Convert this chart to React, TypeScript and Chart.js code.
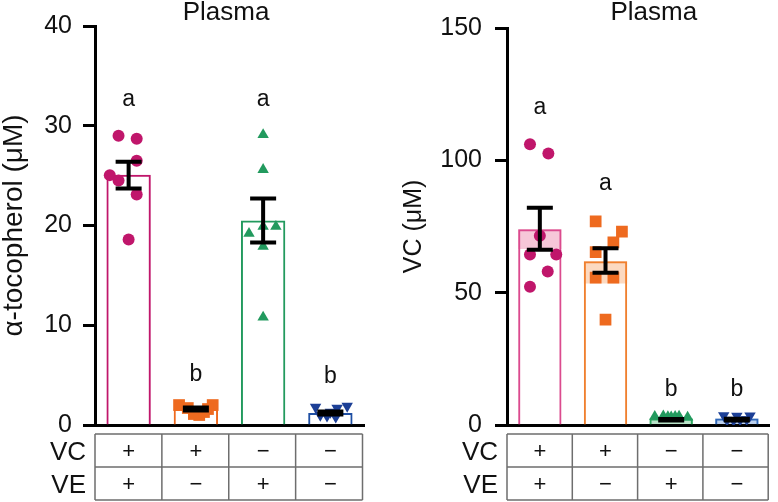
import React, { useEffect, useRef } from "react";
import { Chart, registerables } from "chart.js";

Chart.register(...registerables);

// ---------- shared ----------
const groups = ["VC+ VE+", "VC+ VE−", "VC− VE+", "VC− VE−"];
const vcRow = ["+", "+", "−", "−"];
const veRow = ["+", "−", "+", "−"];

// ---------- left panel: alpha-tocopherol ----------
const tocoTitle = "α-tocopherol (μM)";
const tocoTicks = [0, 10, 20, 30, 40];
const tocoMeans = [25.1, 1.6, 20.5, 1.2];
const tocoErrLow = [23.7, 1.45, 18.3, 1.05];
const tocoErrHigh = [26.4, 1.75, 22.7, 1.35];
const tocoLetters = ["a", "b", "a", "b"];
const tocoLetterY = [32.0, 4.4, 32.0, 4.2];
const tocoPts1 = [29.0, 28.7, 26.5, 25.05, 24.5, 23.1, 18.6];
const tocoJit1 = [-0.15, 0.12, 0.12, -0.28, -0.15, 0.12, 0];
const tocoPts2 = [2.0, 2.0, 1.7, 1.1, 1.0, 1.3, 1.6];
const tocoJit2 = [-0.25, 0.25, -0.12, -0.03, 0.05, 0.12, 0.18];
const tocoPts3 = [29.1, 25.6, 19.9, 19.2, 19.9, 17.9, 10.8];
const tocoJit3 = [0, 0, 0, -0.21, 0.19, 0, 0];
const tocoPts4 = [1.8, 1.9, 1.7, 0.9, 0.8, 1.0, 1.3];
const tocoJit4 = [-0.22, 0.25, 0.1, -0.05, 0.08, -0.15, 0];

// ---------- right panel: VC ----------
const vcTitle = "VC (μM)";
const vcTicks = [0, 50, 100, 150];
const vcMeans = [74.0, 61.9, 2.5, 2.5];
const vcBandLow = [66.5, 53.5, 0.4, 0.4];
const vcBandHigh = [74.0, 61.9, 2.5, 2.5];
const vcErrLow = [66.2, 57.5, 1.7, 1.7];
const vcErrHigh = [82.1, 66.8, 2.3, 2.4];
const vcLetters = ["a", "a", "b", "b"];
const vcLetterY = [117.5, 88.9, 10.9, 10.9];
const vcPts1 = [106.1, 102.6, 71.5, 64.4, 64.4, 58.0, 52.2];
const vcJit1 = [-0.15, 0.13, 0, -0.15, 0.25, 0.12, -0.15];
const vcPts2 = [76.9, 73.1, 69.0, 65.3, 55.7, 55.7, 39.8];
const vcJit2 = [-0.15, 0.25, 0.12, -0.15, -0.15, 0.12, 0];
const vcPts3 = [3.2, 3.4, 3.0, 3.3, 2.9, 3.1, 3.2];
const vcJit3 = [-0.25, -0.12, 0, 0.12, 0.25, -0.05, 0.06];
const vcPts4 = [3.6, 3.4, 3.5, 1.9, 1.8, 2.0, 2.1];
const vcJit4 = [-0.2, 0.0, 0.2, -0.15, -0.05, 0.05, 0.15];

const FONT = "'Liberation Sans', Arial, Helvetica, sans-serif";

const mk = (vals: number[], jit: number[], idx: number) =>
  vals.map((v, k) => ({ x: idx + jit[k], y: v }));

type PanelCfg = {
  width: number;
  axisWidth: number;
  padRight: number;
  tickPad: number;
  titlePad: number;
  titleSize: number;
  plasmaOffset: number;
  yTitle: string;
  ticks: number[];
  means: number[];
  errLow: number[];
  errHigh: number[];
  letters: string[];
  letterY: number[];
  bandLow?: number[];
  bandHigh?: number[];
  barColors: string[];
  bandColors?: string[];
  ptColors: string[];
  points: { x: number; y: number }[][];
};

const styles = ["circle", "rect", "triangle", "triangle"];
const rotations = [0, 0, 0, 180];
const radii = [6, 8.3, 6.6, 6.6];

function makeConfig(cfg: PanelCfg) {
  const datasets: any[] = [];
  if (cfg.bandLow && cfg.bandHigh) {
    datasets.push({
      type: "bar",
      data: cfg.bandLow.map((lo, i) => [lo, cfg.bandHigh![i]]),
      backgroundColor: cfg.bandColors,
      borderWidth: 0,
      barPercentage: 0.66,
      categoryPercentage: 1,
      grouped: false,
      order: 4,
      xAxisID: "x",
    });
  }
  datasets.push({
    type: "bar",
    data: cfg.means,
    backgroundColor: "rgba(255,255,255,0)",
    borderColor: cfg.barColors,
    borderWidth: 2,
    barPercentage: 0.66,
    categoryPercentage: 1,
    grouped: false,
    order: 3,
    xAxisID: "x",
  });
  cfg.points.forEach((pts, i) => {
    datasets.push({
      type: "scatter",
      data: pts,
      xAxisID: "xs",
      pointStyle: styles[i],
      rotation: rotations[i],
      pointRadius: radii[i],
      pointBackgroundColor: cfg.ptColors[i],
      pointBorderWidth: 0,
      showLine: false,
      order: 2,
    });
  });

  const overlay = {
    id: "overlay",
    afterDatasetsDraw(chart: any) {
      const { ctx } = chart;
      const xs = chart.scales.x;
      const ys = chart.scales.y;
      ctx.save();
      ctx.strokeStyle = "#000";
      ctx.lineWidth = 4;
      cfg.errLow.forEach((lo, i) => {
        const cx = xs.getPixelForValue(i);
        const yl = ys.getPixelForValue(lo);
        const yh = ys.getPixelForValue(cfg.errHigh[i]);
        ctx.beginPath();
        ctx.moveTo(cx, yl);
        ctx.lineTo(cx, yh);
        ctx.moveTo(cx - 13, yl);
        ctx.lineTo(cx + 13, yl);
        ctx.moveTo(cx - 13, yh);
        ctx.lineTo(cx + 13, yh);
        ctx.stroke();
      });
      ctx.restore();
    },
    afterDraw(chart: any) {
      const { ctx, chartArea } = chart;
      const xs = chart.scales.x;
      const ys = chart.scales.y;
      ctx.save();
      ctx.fillStyle = "#111";
      // significance letters
      ctx.font = `23px ${FONT}`;
      ctx.textAlign = "center";
      ctx.textBaseline = "alphabetic";
      cfg.letters.forEach((l, i) => {
        ctx.fillText(l, xs.getPixelForValue(i), ys.getPixelForValue(cfg.letterY[i]));
      });
      // panel title
      ctx.font = `26px ${FONT}`;
      ctx.fillText("Plasma", (chartArea.left + chartArea.right) / 2 + cfg.plasmaOffset, 20);
      // table
      const tl = chartArea.left;
      const tr = chartArea.right - 1.5;
      const top = chartArea.bottom + 9;
      const rowH = 33;
      ctx.strokeStyle = "#6e6e6e";
      ctx.lineWidth = 1.5;
      ctx.beginPath();
      for (let r = 0; r <= 2; r++) {
        ctx.moveTo(tl, top + r * rowH);
        ctx.lineTo(tr, top + r * rowH);
      }
      const cw = (tr - tl) / groups.length;
      for (let c = 0; c <= groups.length; c++) {
        ctx.moveTo(tl + c * cw, top);
        ctx.lineTo(tl + c * cw, top + 2 * rowH);
      }
      ctx.stroke();
      ctx.textBaseline = "middle";
      ctx.font = `22px ${FONT}`;
      groups.forEach((_, i) => {
        const cx = xs.getPixelForValue(i);
        ctx.fillText(vcRow[i], cx, top + rowH / 2 + 1);
        ctx.fillText(veRow[i], cx, top + rowH * 1.5 + 1);
      });
      ctx.textAlign = "right";
      ctx.font = `26px ${FONT}`;
      ctx.fillText("VC", tl - 9, top + rowH / 2 + 2);
      ctx.fillText("VE", tl - 9, top + rowH * 1.5 + 2);
      ctx.restore();
    },
  };

  const max = cfg.ticks[cfg.ticks.length - 1];
  return {
    data: { labels: groups, datasets },
    options: {
      responsive: false,
      animation: false,
      devicePixelRatio: 1,
      layout: { padding: { top: 23, bottom: 77, left: 0, right: cfg.padRight } },
      plugins: { legend: { display: false }, tooltip: { enabled: false } },
      scales: {
        x: {
          type: "category",
          offset: true,
          ticks: { display: false },
          grid: { display: false },
          border: { display: true, width: 3, color: "#000" },
          afterFit: (s: any) => {
            s.height = 0;
          },
        },
        xs: {
          type: "linear",
          display: false,
          min: -0.5,
          max: groups.length - 0.5,
        },
        y: {
          min: 0,
          max,
          afterBuildTicks: (s: any) => {
            s.ticks = cfg.ticks.map((v) => ({ value: v }));
          },
          afterFit: (s: any) => {
            s.width = cfg.axisWidth;
          },
          ticks: {
            color: "#111",
            padding: cfg.tickPad,
            font: { family: FONT, size: 25 },
          },
          grid: {
            display: true,
            drawOnChartArea: false,
            drawTicks: true,
            tickLength: 12,
            tickWidth: 3,
            color: "#000",
          },
          border: { display: true, width: 3, color: "#000" },
          title: {
            display: true,
            text: cfg.yTitle,
            color: "#111",
            font: { family: FONT, size: cfg.titleSize, lineHeight: 1 },
            padding: { top: cfg.titlePad, bottom: 0 },
          },
        },
      },
    },
    plugins: [overlay],
  };
}

const leftCfg: PanelCfg = {
  width: 390,
  axisWidth: 95,
  padRight: 26,
  tickPad: 11,
  titlePad: 0,
  titleSize: 28,
  plasmaOffset: -3.5,
  yTitle: tocoTitle,
  ticks: tocoTicks,
  means: tocoMeans,
  errLow: tocoErrLow,
  errHigh: tocoErrHigh,
  letters: tocoLetters,
  letterY: tocoLetterY,
  barColors: ["#C0166B", "#EE6A1F", "#229A5E", "#1F4FA3"],
  ptColors: ["#C0166B", "#EE6A1F", "#229A5E", "#1C3F96"],
  points: [
    mk(tocoPts1, tocoJit1, 0),
    mk(tocoPts2, tocoJit2, 1),
    mk(tocoPts3, tocoJit3, 2),
    mk(tocoPts4, tocoJit4, 3),
  ],
};

const rightCfg: PanelCfg = {
  width: 388,
  axisWidth: 117,
  padRight: 2,
  tickPad: 13,
  titlePad: 12,
  titleSize: 25,
  plasmaOffset: 15.5,
  yTitle: vcTitle,
  ticks: vcTicks,
  means: vcMeans,
  errLow: vcErrLow,
  errHigh: vcErrHigh,
  letters: vcLetters,
  letterY: vcLetterY,
  bandLow: vcBandLow,
  bandHigh: vcBandHigh,
  barColors: ["#DB4A8E", "#F0802F", "#2EA660", "#3068B8"],
  bandColors: ["#F6C7D8", "#FCD9C0", "#B9E3C8", "#BBD0EE"],
  ptColors: ["#C0166B", "#EE6A1F", "#229A5E", "#1C3F96"],
  points: [
    mk(vcPts1, vcJit1, 0),
    mk(vcPts2, vcJit2, 1),
    mk(vcPts3, vcJit3, 2),
    mk(vcPts4, vcJit4, 3),
  ],
};

function Panel({ cfg, left }: { cfg: PanelCfg; left: number }) {
  const ref = useRef<HTMLCanvasElement>(null);
  useEffect(() => {
    if (!ref.current) return;
    const chart = new Chart(ref.current, makeConfig(cfg) as any);
    return () => chart.destroy();
  }, [cfg]);
  return (
    <canvas
      ref={ref}
      width={cfg.width}
      height={502}
      style={{ position: "absolute", left, top: 0, width: cfg.width, height: 502 }}
    />
  );
}

export default function App() {
  return (
    <div
      style={{
        position: "absolute",
        left: 0,
        top: 0,
        width: 778,
        height: 502,
        background: "#fff",
        overflow: "hidden",
      }}
    >
      <Panel cfg={leftCfg} left={0} />
      <Panel cfg={rightCfg} left={390} />
    </div>
  );
}
